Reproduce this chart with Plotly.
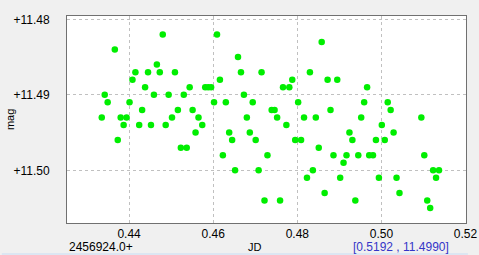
import plotly.graph_objects as go

jd = [0.4480, 0.4609, 0.4366, 0.4466, 0.4415, 0.4445, 0.4473, 0.4509, 0.4408, 0.4616,
      0.4438, 0.4544, 0.4581, 0.4588, 0.4595, 0.4342, 0.4459, 0.4494, 0.4530, 0.4349,
      0.4401, 0.4602, 0.4630, 0.4431, 0.4516, 0.4551, 0.4335, 0.4380, 0.4394, 0.4502,
      0.4565, 0.4387, 0.4424, 0.4452, 0.4487, 0.4574, 0.4373, 0.4523, 0.4537, 0.4558,
      0.4638, 0.4645, 0.4623, 0.4652, 0.4687, 0.4701, 0.4729, 0.4708, 0.4722, 0.4680,
      0.4659, 0.4666, 0.4715, 0.4673, 0.4694, 0.4739, 0.4746, 0.4858, 0.4830, 0.4788,
      0.4766, 0.4781, 0.4872, 0.4895, 0.4966, 0.4802, 0.4959, 0.5015, 0.5022, 0.4879,
      0.4752, 0.4816, 0.4844, 0.4952, 0.5095, 0.4774, 0.5001, 0.4924, 0.4931, 0.4795,
      0.4809, 0.4851, 0.4886, 0.4917, 0.4945, 0.4971, 0.4980, 0.4910, 0.4837, 0.4823,
      0.4902, 0.4865, 0.4759, 0.4938, 0.4987, 0.5008, 0.5029, 0.4994, 0.5036, 0.5043,
      0.5102, 0.5123, 0.5137, 0.5130, 0.5109, 0.5116]

mag = [11.482, 11.482, 11.484, 11.486, 11.487, 11.487, 11.487, 11.487, 11.488, 11.488,
       11.489, 11.489, 11.489, 11.489, 11.489, 11.490, 11.490, 11.490, 11.490, 11.491,
       11.491, 11.491, 11.491, 11.492, 11.492, 11.492, 11.493, 11.493, 11.493, 11.493,
       11.493, 11.494, 11.494, 11.494, 11.494, 11.494, 11.496, 11.497, 11.497, 11.495,
       11.495, 11.496, 11.498, 11.500, 11.495, 11.496, 11.498, 11.500, 11.504, 11.493,
       11.485, 11.487, 11.487, 11.490, 11.491, 11.492, 11.492, 11.483, 11.487, 11.488,
       11.489, 11.489, 11.488, 11.488, 11.489, 11.491, 11.491, 11.491, 11.492, 11.492,
       11.493, 11.493, 11.493, 11.493, 11.493, 11.494, 11.494, 11.495, 11.496, 11.496,
       11.496, 11.497, 11.498, 11.498, 11.498, 11.498, 11.498, 11.499, 11.500, 11.501,
       11.501, 11.503, 11.504, 11.504, 11.496, 11.496, 11.495, 11.501, 11.501, 11.503,
       11.498, 11.500, 11.500, 11.501, 11.504, 11.505]

x_ticks = [0.44, 0.46, 0.48, 0.50, 0.52]
y_ticks = [11.48, 11.49, 11.50]
x_origin_label = "2456924.0+"
x_title = "JD"
y_title = "mag"
cursor_label = "[0.5192 , 11.4990]"

FONT = "Liberation Sans, Arial, sans-serif"

fig = go.Figure(go.Scatter(
    x=jd, y=mag, mode="markers",
    marker=dict(color="#00ee00", size=6.5, line=dict(width=0)),
    hoverinfo="skip",
))

H = 255 - 16 - 32

fig.update_layout(
    width=479, height=255,
    margin=dict(l=67, r=2, t=16, b=32),
    paper_bgcolor="#f0f0f0",
    plot_bgcolor="#ffffff",
    showlegend=False,
    font=dict(family=FONT, size=11, color="#000000"),
    xaxis=dict(
        range=[0.42523, 0.52012],
        tickvals=x_ticks, ticktext=[f"{v:.2f}" for v in x_ticks],
        showgrid=True, gridcolor="#c0c0c0", griddash="3px,3px", gridwidth=1,
        zeroline=False, showline=True, linecolor="#707070", linewidth=1, mirror=True,
        ticks="", ticklabelstandoff=0, ticklabeloverflow="allow",
        tickfont=dict(family=FONT, size=12),
    ),
    yaxis=dict(
        range=[11.50698, 11.47956],
        tickvals=y_ticks, ticktext=[f"+{v:.2f}" for v in y_ticks],
        showgrid=True, gridcolor="#c0c0c0", griddash="3px,3px", gridwidth=1,
        zeroline=False, showline=True, linecolor="#707070", linewidth=1, mirror=True,
        ticks="", ticklabelstandoff=14,
        tickfont=dict(family=FONT, size=12),
    ),
    annotations=[
        dict(text=y_title, xref="paper", yref="paper", x=-59 / 410, y=0.5,
             xanchor="center", yanchor="middle", textangle=-90, showarrow=False,
             font=dict(size=11)),
        dict(text=x_origin_label, xref="paper", yref="paper", x=0, y=-24 / H,
             xanchor="left", yanchor="middle", showarrow=False, font=dict(size=12)),
        dict(text=x_title, xref="paper", yref="paper", x=(260 - 67) / 410, y=-24 / H,
             xanchor="center", yanchor="middle", showarrow=False, font=dict(size=11)),
        dict(text=cursor_label, xref="paper", yref="paper", x=(462 - 67) / 410, y=-24 / H,
             xanchor="right", yanchor="middle", showarrow=False,
             font=dict(size=12, color="#3535c8")),
    ],
    shapes=[
        dict(type="rect", xref="paper", yref="paper", x0=-67 / 410, x1=412 / 410,
             y0=-32 / H, y1=-30 / H, fillcolor="#dce6f2", line=dict(width=0), layer="below"),
    ],
)

fig.write_html("out.html")
